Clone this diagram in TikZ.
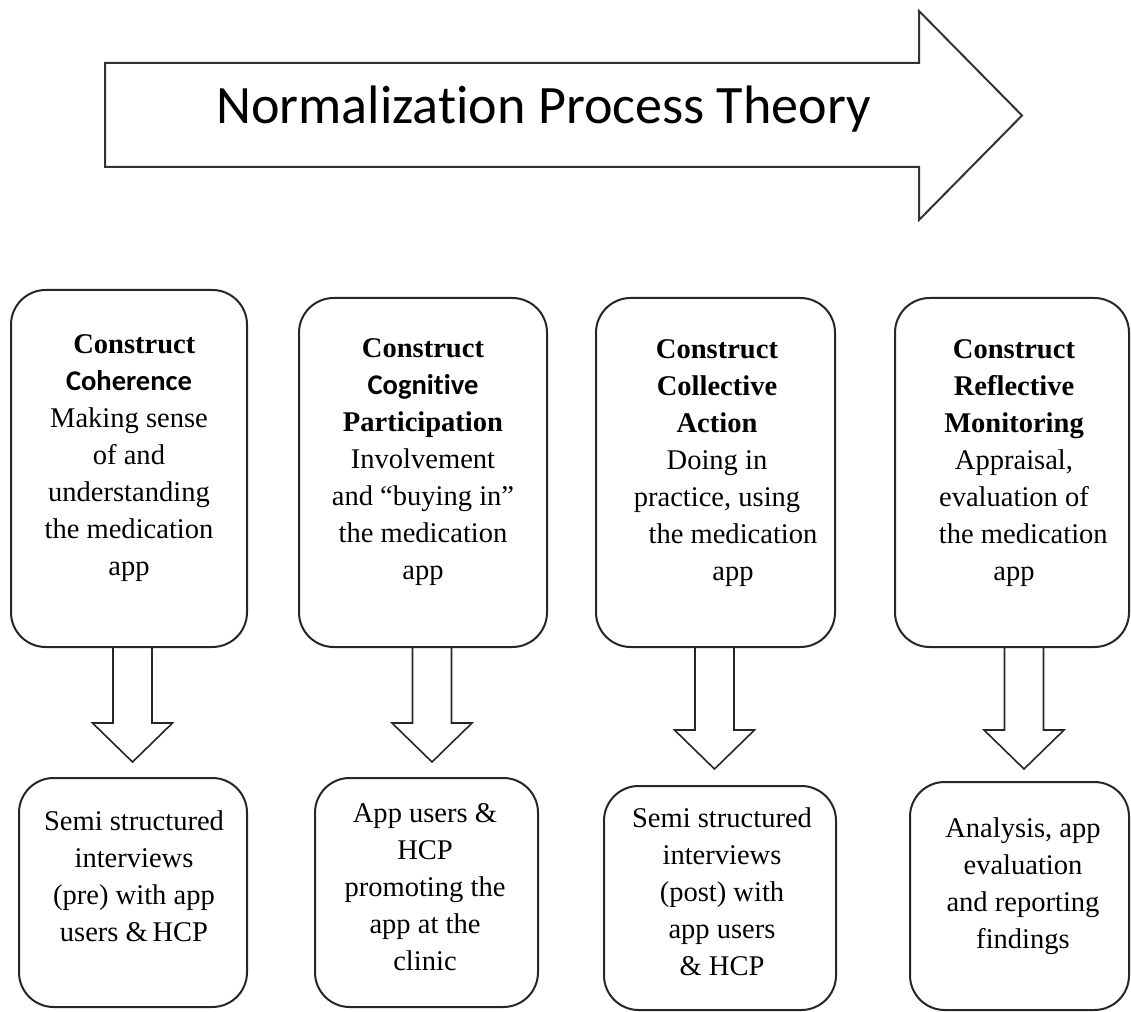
\documentclass[tikz,border=0pt]{standalone}
\usepackage{fontspec}
\setmainfont{Liberation Serif}
\newfontfamily\calfont[Ligatures={NoCommon,NoRare,NoDiscretionary}]{Carlito}
\usetikzlibrary{calc}

% pixel-like units, y grows downwards
\tikzset{
  stage/.style={draw=black!85, line width=1.5pt, rounded corners=26pt, inner sep=0pt},
  stagetext/.style={anchor=north, align=center, inner sep=0pt,
    font=\fontsize{21.4pt}{27.75pt}\selectfont},
  barrow/.style={draw=black!85, line width=1.2pt, line join=miter},
  bigarrow/.style={draw=black!80, line width=1.5pt, line join=miter},
}
% strut fixing the height of the first text line
\newcommand\fl{\rule{0pt}{20pt}}
% hollow block arrow from the bottom of a stage box down to a tip point
\newcommand\blockdown[2]{%
  \draw[barrow] ($(#1.south -| #2)+(-19.5,0)$) -- ($(#2)+(-19.5,-39)$)
    -- ($(#2)+(-40,-39)$) -- (#2) -- ($(#2)+(40,-39)$)
    -- ($(#2)+(19.5,-39)$) -- ($(#1.south -| #2)+(19.5,0)$);}

\begin{document}
\begin{tikzpicture}[x=0.75pt,y=-0.75pt]
\useasboundingbox (0,0) rectangle (1131,1012);

% theory arrow
\draw[bigarrow] (105,63) -- (919,63) -- (919,11) -- (1022,115.5)
  -- (919,220) -- (919,167) -- (105,167) -- cycle;
\node[font=\calfont\fontsize{40.6pt}{48pt}\selectfont, anchor=base, inner sep=0pt]
  (title) at (543.5,124) {Normalization Process Theory};

% constructs
\node[stage, minimum width=177pt, minimum height=267.75pt] (u1) at (129,468.5) {};
\node[stage, minimum width=186pt, minimum height=261.75pt] (u2) at (423,472.5) {};
\node[stage, minimum width=179.25pt, minimum height=261.75pt] (u3) at (715.5,472.5) {};
\node[stage, minimum width=175.5pt, minimum height=261.75pt] (u4) at (1012,472.5) {};

\node[stagetext] (ut1) at (129,326.3) {\fl\hspace*{8pt}\textbf{Construct}\\
  {\calfont\bfseries Coherence}\\ Making sense\\ of and\\ understanding\\
  the medication\\ app};
\node[stagetext] (ut2) at (423,330.3) {\fl\textbf{Construct}\\
  {\calfont\bfseries Cognitive}\\ \textbf{Participation}\\ Involvement\\
  and “buying in”\\ the medication\\ app};
\node[stagetext] (ut3) at (717,331.3) {\fl\textbf{Construct}\\
  \textbf{Collective}\\ \textbf{Action}\\ Doing in\\ practice, using\\
  \hspace*{24pt}the medication\\ \hspace*{24pt}app};
\node[stagetext] (ut4) at (1014,331.3) {\fl\textbf{Construct}\\
  \textbf{Reflective}\\ \textbf{Monitoring}\\ Appraisal,\\ evaluation of\\
  \hspace*{14pt}the medication\\ app};

% study activities
\node[stage, minimum width=171pt, minimum height=171.75pt] (l1) at (133,892.5) {};
\node[stage, minimum width=167.25pt, minimum height=171.75pt] (l2) at (426.5,892.5) {};
\node[stage, minimum width=174pt, minimum height=168pt] (l3) at (720,898) {};
\node[stage, minimum width=164.25pt, minimum height=171pt] (l4) at (1019.5,896) {};

\node[stagetext] (lt1) at (134,803.3) {\fl Semi structured\\ interviews\\
  (pre) with app\\ users \&\,HCP};
\node[stagetext] (lt2) at (425,795.3) {\fl App users \&\\ HCP\\
  promoting the\\ app at the\\ clinic};
\node[stagetext] (lt3) at (722,800.3) {\fl Semi structured\\ interviews\\
  (post) with\\ app users\\ \& HCP};
\node[stagetext] (lt4) at (1023,810.3) {\fl Analysis, app\\ evaluation\\
  and reporting\\ findings};

% arrow tips just above the activity boxes
\coordinate (tip1) at (132.5,762);
\coordinate (tip2) at (432,762);
\coordinate (tip3) at (714.5,769);
\coordinate (tip4) at (1024,769);

\blockdown{u1}{tip1}
\blockdown{u2}{tip2}
\blockdown{u3}{tip3}
\blockdown{u4}{tip4}
\end{tikzpicture}
\end{document}
